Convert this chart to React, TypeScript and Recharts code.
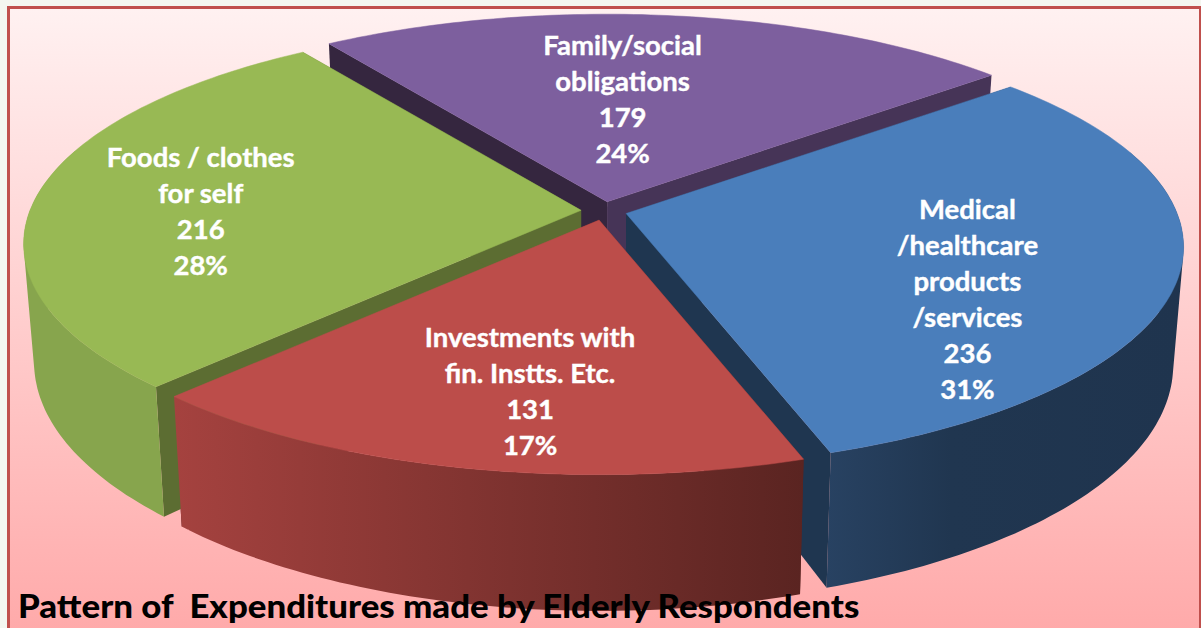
import { PieChart, Pie } from "recharts";

const names = ["Family/social obligations", "Medical /healthcare products /services", "Investments with fin. Instts. Etc.", "Foods / clothes for self"];
const counts = [179, 236, 131, 216];
const percents = ["24%", "31%", "17%", "28%"];
const labelLines = [
  ["Family/social", "obligations"],
  ["Medical", "/healthcare", "products", "/services"],
  ["Investments with", "fin. Instts. Etc."],
  ["Foods / clothes", "for self"],
];
const data = names.map((name, i) => ({ name, value: counts[i] }));

const topColors = ["#7d5f9e", "#4a7ebb", "#bc4d4a", "#98b954"];
const wallColors = ["#7d5f9e", "url(#blueWall)", "url(#redWall)", "#87a54d"];
const cutColors = [["#35263f", "#463457"], ["#1f3650", "#1f3650"], ["#5a2320", "#5a2320"], ["#5c6d32", "#5c6d32"]];
const labelShift = [[-25, 16], [15, 50], [9, 33], [-53, 12]];

// fake 3d: flat angle/radius from the pie -> perspective view of a thick disc
const CX = 604, CY = 211, RADIUS = 551, TILT = 216 / 551, PERSP = 6.6;
const HEIGHT = 115.6, TAPER = 0.982;
const EXPLODE_X = 23, EXPLODE_Y = 9.3;
const rad = (a: number) => (a * Math.PI) / 180;

function project(angle: number, r: number, mid: number, bottom = false) {
  const c = Math.cos(rad(angle)), s = Math.sin(rad(angle));
  const k = 1 / (1 + (s * r) / (RADIUS * PERSP));
  const ox = EXPLODE_X * Math.cos(rad(mid)), oy = -EXPLODE_Y * Math.sin(rad(mid));
  const x = r * c * k + ox;
  const y = -r * TILT * s * k + oy;
  return bottom ? [CX + x * TAPER, CY + y + HEIGHT * k] : [CX + x, CY + y];
}

const toPath = (pts: number[][]) => "M" + pts.map((p) => `${p[0].toFixed(1)},${p[1].toFixed(1)}`).join("L") + "Z";

function arcAngles(start: number, end: number) {
  const out: number[] = [];
  const n = Math.ceil(Math.abs(end - start));
  for (let i = 0; i <= n; i++) out.push(start + ((end - start) * i) / n);
  return out;
}

function TopShape(p: any) {
  const pts = [project(0, 0, p.midAngle), ...arcAngles(p.startAngle, p.endAngle).map((a) => project(a, p.outerRadius, p.midAngle))];
  return <path d={toPath(pts)} fill={topColors[names.indexOf(p.name)]} stroke={topColors[names.indexOf(p.name)]} strokeWidth={0.5} />;
}

// one quad per degree, all wound the same way so nonzero fill gives their union
function OuterShape(p: any) {
  const angles = arcAngles(p.startAngle, p.endAngle).filter((a) => Math.sin(rad(a)) < 0.3);
  let d = "";
  for (let i = 0; i + 1 < angles.length; i++) {
    const q = [
      project(angles[i], p.outerRadius, p.midAngle),
      project(angles[i + 1], p.outerRadius, p.midAngle),
      project(angles[i + 1], p.outerRadius, p.midAngle, true),
      project(angles[i], p.outerRadius, p.midAngle, true),
    ];
    let area = 0;
    q.forEach((a, j) => {
      const b = q[(j + 1) % 4];
      area += a[0] * b[1] - b[0] * a[1];
    });
    d += toPath(area < 0 ? q.reverse() : q);
  }
  if (!d) return <g />;
  return <path d={d} fill={wallColors[names.indexOf(p.name)]} fillRule="nonzero" />;
}

function CutShape(p: any) {
  const c = cutColors[names.indexOf(p.name)];
  const face = (a: number) => [
    project(0, 0, p.midAngle),
    project(a, p.outerRadius, p.midAngle),
    project(a, p.outerRadius, p.midAngle, true),
    project(0, 0, p.midAngle, true),
  ];
  return (
    <g>
      <path d={toPath(face(p.startAngle))} fill={c[0]} />
      <path d={toPath(face(p.endAngle))} fill={c[1]} />
    </g>
  );
}

function renderLabel(p: any) {
  const i = names.indexOf(p.name);
  const [x0, y0] = project(p.midAngle, p.outerRadius * 0.6, p.midAngle);
  const x = x0 + labelShift[i][0], y = y0 + labelShift[i][1];
  const lines = [...labelLines[i], String(counts[i]), percents[i]];
  const lh = 36;
  return (
    <text x={x} y={y - ((lines.length - 1) * lh) / 2 + 9} textAnchor="middle" fill="#fff" stroke="#fff" strokeWidth={0.4} fontFamily="Lato" fontWeight={700} fontSize={27.5}>
      {lines.map((t, k) => (
        <tspan key={k} x={x} dy={k === 0 ? 0 : lh}>{t}</tspan>
      ))}
    </text>
  );
}

export default function App() {
  const pieProps = {
    data,
    dataKey: "value",
    nameKey: "name",
    cx: CX,
    cy: CY,
    outerRadius: RADIUS,
    startAngle: 124.6,
    endAngle: -235.4,
    paddingAngle: 0,
    stroke: "none",
    isAnimationActive: false,
    labelLine: false,
  };
  return (
    <div style={{ position: "absolute", left: 0, top: 0, width: 1201, height: 628, overflow: "hidden", background: "#f4f6f0" }}>
      <div style={{ position: "absolute", left: 7, top: 6, width: 1189, height: 640, border: "3px solid #c0504d", background: "linear-gradient(180deg, #fff1f1 0%, #ffaaaa 97%)" }} />
      <div style={{ position: "absolute", left: 0, top: 0 }}>
        <PieChart width={1201} height={628} margin={{ top: 0, right: 0, bottom: 0, left: 0 }}>
          <defs>
            <linearGradient id="redWall" x1="0" y1="0" x2="1" y2="0">
              <stop offset="0%" stopColor="#a5423f" />
              <stop offset="100%" stopColor="#5a2421" />
            </linearGradient>
            <linearGradient id="blueWall" x1="0" y1="0" x2="1" y2="0">
              <stop offset="0%" stopColor="#284262" />
              <stop offset="35%" stopColor="#203650" />
              <stop offset="100%" stopColor="#1f344e" />
            </linearGradient>
          </defs>
          <Pie {...pieProps} shape={CutShape} />
          <Pie {...pieProps} shape={OuterShape} />
          <Pie {...pieProps} shape={TopShape} label={renderLabel} />
        </PieChart>
      </div>
      <div style={{ position: "absolute", left: 18, top: 585, fontFamily: "Lato", fontWeight: 900, fontSize: 33, lineHeight: "40px", color: "#000", whiteSpace: "pre", transform: "scaleX(1.055)", transformOrigin: "left" }}>
        Pattern of  Expenditures made by Elderly Respondents
      </div>
    </div>
  );
}
